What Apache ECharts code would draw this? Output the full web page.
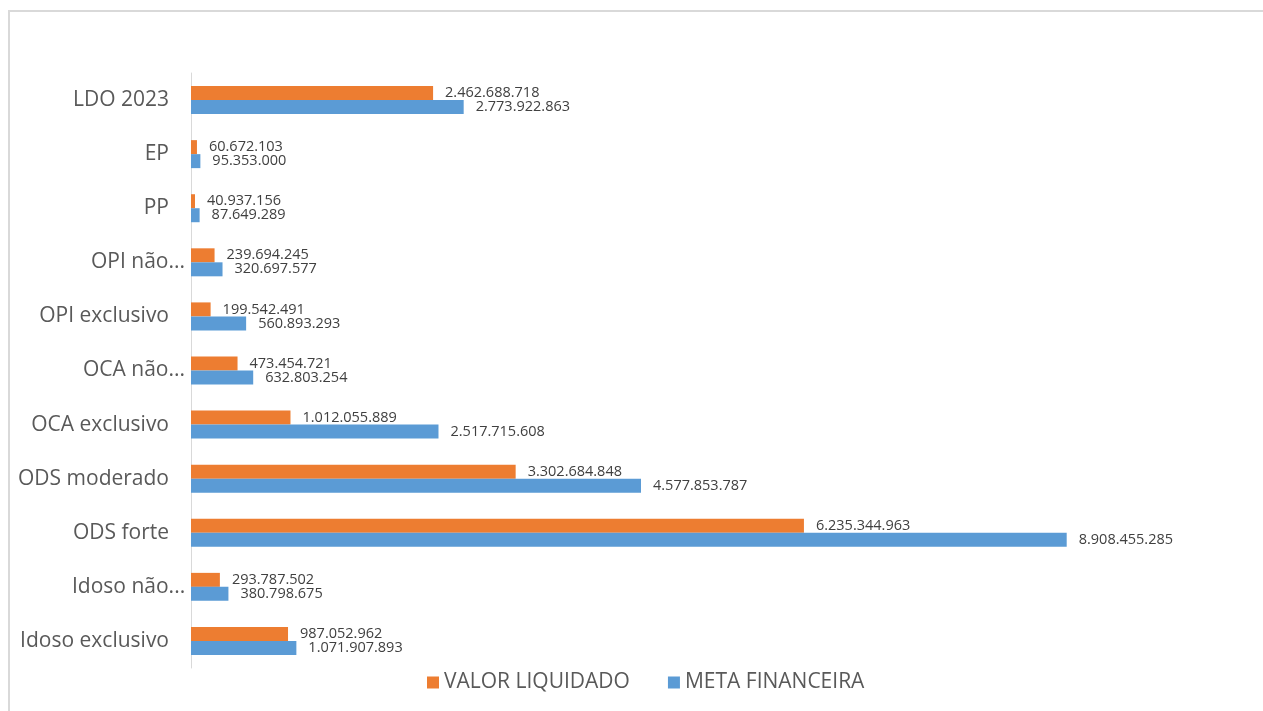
<!DOCTYPE html>
<html>
<head>
<meta charset="utf-8">
<script src="https://cdn.jsdelivr.net/npm/echarts@6/dist/echarts.min.js"></script>
<style>
  body { margin: 0; background: #fff; }
  #chart { width: 1263px; height: 711px; }
  #frame { position: absolute; left: 8px; top: 10px; width: 1300px; height: 800px;
           border: 2px solid #d9d9d9; pointer-events: none; }
</style>
</head>
<body>
<div id="chart"></div>
<div id="frame"></div>
<script>
const categories = ["Idoso exclusivo", "Idoso não...", "ODS forte", "ODS moderado", "OCA exclusivo",
  "OCA não...", "OPI exclusivo", "OPI não...", "PP", "EP", "LDO 2023"];
const valorLiquidado = [987052962, 293787502, 6235344963, 3302684848, 1012055889,
  473454721, 199542491, 239694245, 40937156, 60672103, 2462688718];
const metaFinanceira = [1071907893, 380798675, 8908455285, 4577853787, 2517715608,
  632803254, 560893293, 320697577, 87649289, 95353000, 2773922863];

// thousands separator as in pt-BR
const fmt = (v) => String(v).replace(/\B(?=(\d{3})+(?!\d))/g, ".");

// truncated labels spill past the normal right edge, like in Excel
const ctx = document.createElement("canvas").getContext("2d");
ctx.font = "21px 'Open Sans'";
const rich = {};
categories.forEach((c, i) => {
  if (c.endsWith("...")) {
    rich["t" + i] = { width: Math.round(ctx.measureText(c).width) - 16, align: "left",
      fontSize: 21, color: "#595959", fontFamily: "Open Sans" };
  }
});

const chart = echarts.init(document.getElementById("chart"));
const labelStyle = {
  show: true,
  position: "right",
  distance: 12,
  color: "#404040",
  fontSize: 14.5,
  fontFamily: "Open Sans",
  formatter: (p) => fmt(p.value),
};
chart.setOption({
  animation: false,
  textStyle: { fontFamily: "Open Sans" },
  grid: { left: 191, right: 89, top: 73, bottom: 43 },
  legend: {
    bottom: 13,
    left: 422,
    itemWidth: 12,
    itemHeight: 12,
    itemGap: 38,
    icon: "rect",
    textStyle: { fontSize: 21, color: "#595959", fontFamily: "Open Sans" },
    data: ["VALOR LIQUIDADO", "META FINANCEIRA"],
  },
  xAxis: {
    type: "value",
    min: 0,
    max: 10000000000,
    show: false,
    splitLine: { show: false },
  },
  yAxis: {
    type: "category",
    data: categories,
    axisLine: { show: true, lineStyle: { color: "#d9d9d9", width: 1 } },
    axisTick: { show: false },
    axisLabel: {
      color: "#595959", fontSize: 21, margin: 22, fontFamily: "Open Sans",
      formatter: (v, i) => (rich["t" + i] ? "{t" + i + "|" + v + "}" : v),
      rich: rich,
    },
  },
  series: [
    {
      name: "VALOR LIQUIDADO",
      type: "bar",
      data: valorLiquidado,
      barWidth: 14,
      barGap: "0%",
      itemStyle: { color: "#ED7D31" },
      label: labelStyle,
    },
    {
      name: "META FINANCEIRA",
      type: "bar",
      data: metaFinanceira,
      barWidth: 14,
      barGap: "0%",
      itemStyle: { color: "#5B9BD5" },
      label: labelStyle,
    },
  ],
});
</script>
</body>
</html>
